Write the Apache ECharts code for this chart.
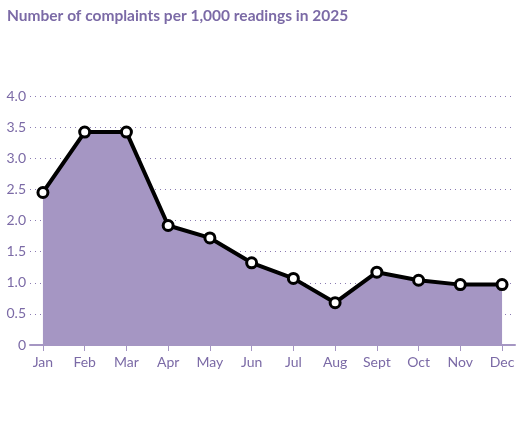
<!DOCTYPE html>
<html><head><meta charset="utf-8">
<script src="https://cdn.jsdelivr.net/npm/echarts@6/dist/echarts.min.js"></script>
<style>html,body{margin:0;padding:0;background:#fff}#c{width:526px;height:437px}</style>
</head><body><div id="c"></div>
<script>
const months = ["Jan","Feb","Mar","Apr","May","Jun","Jul","Aug","Sept","Oct","Nov","Dec"];
const complaints = [2.45,3.42,3.42,1.92,1.72,1.32,1.07,0.68,1.17,1.04,0.97,0.97];
const yTicks = [0,0.5,1,1.5,2,2.5,3,3.5,4];
const purple = '#7b6aa6';
const chart = echarts.init(document.getElementById('c'));
const idx = months.map((m,i)=>i);
chart.setOption({
  animation:false,
  title:{text:'Number of complaints per 1,000 readings in 2025',left:2,top:3,
    textStyle:{color:'#7b6aa6',fontSize:15.5,fontWeight:'bold',fontFamily:'Lato'}},
  grid:{left:30,right:11,top:96,bottom:92},
  xAxis:{type:'value',min:-0.31,max:11.31,
    axisLine:{show:true,lineStyle:{color:'#a596c3',width:2}},
    axisTick:{show:true,customValues:idx,length:6,lineStyle:{color:'#a596c3'}},
    axisLabel:{customValues:idx,formatter:v=>months[Math.round(v)],color:purple,fontSize:14,fontFamily:'Lato',margin:10},
    splitLine:{show:false}},
  yAxis:{type:'value',min:0,max:4,interval:0.5,
    axisLine:{show:false},axisTick:{show:false},
    axisLabel:{formatter:v=>v===0?'0':v.toFixed(1),color:purple,fontSize:14,fontFamily:'Lato',margin:4},
    splitLine:{lineStyle:{type:[1,4],color:'#8a7bb2',width:1}}},
  series:[{type:'line',data:complaints.map((v,i)=>[i,v]),
    lineStyle:{color:'#000',width:4},
    areaStyle:{color:'#a596c3',opacity:1},
    symbol:'circle',symbolSize:10,
    itemStyle:{color:'#fff',borderColor:'#000',borderWidth:3},z:3}]
});
</script></body></html>
